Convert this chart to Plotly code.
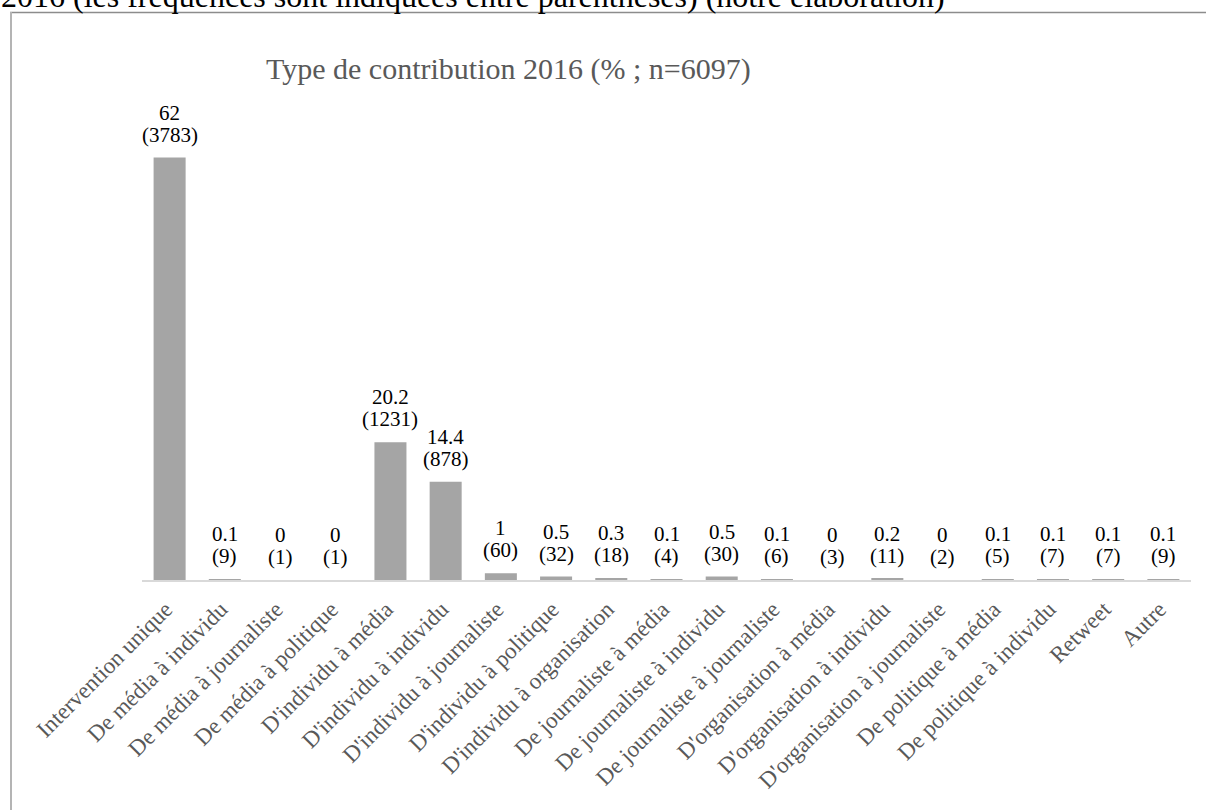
import plotly.graph_objects as go

categories = [
    "Intervention unique", "De média à individu", "De média à journaliste",
    "De média à politique", "D'individu à média", "D'individu à individu",
    "D'individu à journaliste", "D'individu à politique", "D'individu à organisation",
    "De journaliste à média", "De journaliste à individu", "De journaliste à journaliste",
    "D'organisation à média", "D'organisation à individu", "D'organisation à journaliste",
    "De politique à média", "De politique à individu", "Retweet", "Autre",
]
percent = [62, 0.1, 0, 0, 20.2, 14.4, 1, 0.5, 0.3, 0.1, 0.5, 0.1, 0, 0.2, 0, 0.1, 0.1, 0.1, 0.1]
counts = [3783, 9, 1, 1, 1231, 878, 60, 32, 18, 4, 30, 6, 3, 11, 2, 5, 7, 7, 9]
percent_labels = ["62", "0.1", "0", "0", "20.2", "14.4", "1", "0.5", "0.3", "0.1", "0.5",
                  "0.1", "0", "0.2", "0", "0.1", "0.1", "0.1", "0.1"]

W, H = 1206, 810
L, R, T, B = 142, 15, 103, 230
PW, PH = W - L - R, H - T - B
FONT = "Liberation Serif"


def px_x(x):
    return (x - L) / PW


def px_y(y):
    return 1 - (y - T) / PH


fig = go.Figure()
fig.add_trace(go.Bar(
    x=categories, y=percent,
    marker=dict(color="#a5a5a5", line=dict(width=0)),
    hoverinfo="skip",
))

annotations = []
for cat, val, lab, cnt in zip(categories, percent, percent_labels, counts):
    annotations.append(dict(x=cat, y=val, xref="x", yref="y", text=lab, showarrow=False,
                            yanchor="bottom", yshift=31,
                            font=dict(family=FONT, size=21, color="#000000")))
    annotations.append(dict(x=cat, y=val, xref="x", yref="y", text=f"({cnt})", showarrow=False,
                            yanchor="bottom", yshift=9,
                            font=dict(family=FONT, size=21, color="#000000")))

annotations.append(dict(x=px_x(508), y=px_y(69), xref="paper", yref="paper",
                        text="Type de contribution 2016 (% ; n=6097)", showarrow=False,
                        xanchor="center", yanchor="middle",
                        font=dict(family=FONT, size=30, color="#595959")))
annotations.append(dict(x=px_x(-1), y=px_y(15.5), xref="paper", yref="paper",
                        text="2016 (les fréquences sont indiquées entre parenthèses) (notre élaboration)",
                        showarrow=False, xanchor="left", yanchor="bottom",
                        font=dict(family=FONT, size=32, color="#000000")))

shapes = [
    dict(type="line", xref="paper", yref="paper", x0=px_x(10), x1=px_x(1210),
         y0=px_y(12.5), y1=px_y(12.5), line=dict(color="#8c8c8c", width=1.5)),
    dict(type="line", xref="paper", yref="paper", x0=px_x(11), x1=px_x(11),
         y0=px_y(12), y1=px_y(815), line=dict(color="#b4b4b4", width=2)),
]

fig.update_layout(
    width=W, height=H,
    margin=dict(l=L, r=R, t=T, b=B),
    paper_bgcolor="white", plot_bgcolor="white",
    showlegend=False,
    bargap=0.42,
    annotations=annotations,
    shapes=shapes,
    xaxis=dict(
        type="category", range=[-0.5, len(categories) - 0.5],
        showline=True, linecolor="#d9d9d9", linewidth=1.5,
        ticks="", tickangle=-45,
        ticklabelstandoff=5, ticklabelshift=-4,
        tickfont=dict(family=FONT, size=23, color="#595959"),
        showgrid=False, zeroline=False, fixedrange=True,
    ),
    yaxis=dict(
        range=[0, 70], visible=False, showgrid=False, zeroline=False, fixedrange=True,
    ),
)

fig.write_html("out.html")
